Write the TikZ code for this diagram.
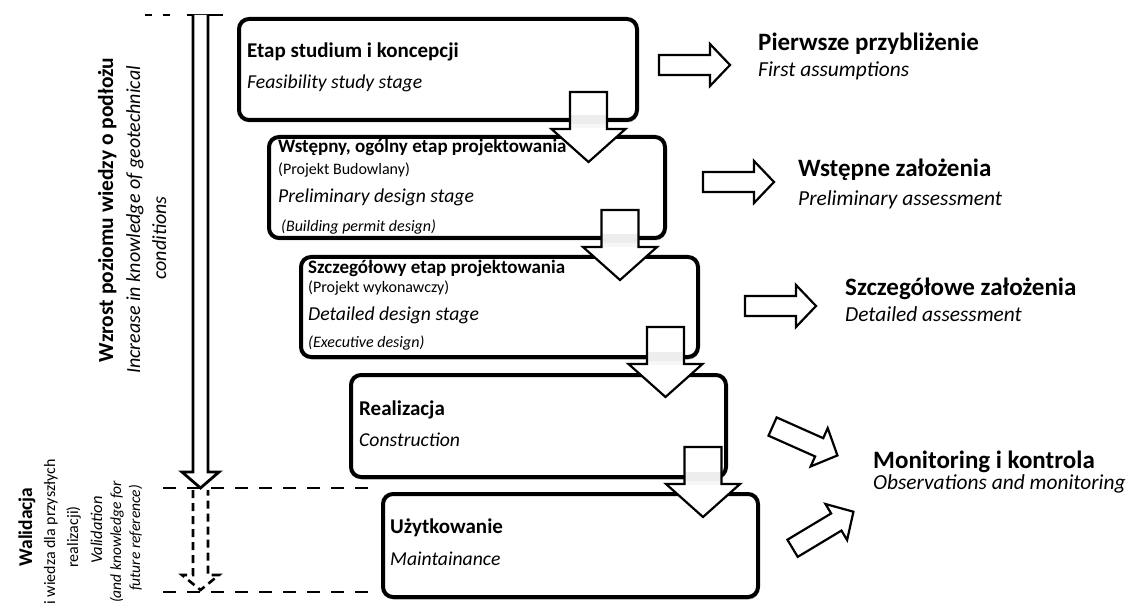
\documentclass[tikz,border=0pt]{standalone}
\usepackage{fontspec}
\setmainfont{Carlito}
\usetikzlibrary{shadows}
\newcommand\fsz[1]{\fontsize{#1}{#1}\selectfont}
\tikzset{
  stage/.style={draw, line width=4pt, rounded corners=10pt, fill=white, inner sep=0pt, anchor=north west,
    drop shadow={shadow xshift=1pt, shadow yshift=-2.5pt, opacity=0.25, fill=black}},
  blk/.style={draw, line width=2.2pt, fill=white, line join=miter},
  dsh/.style={line width=2.8pt, dash pattern=on 13pt off 11pt},
  txt/.style={anchor=base west, inner sep=0pt},
  bh/.style={txt, font=\bfseries\fsz{21}},
  bhs/.style={txt, font=\bfseries\fsz{19}},
  bsub/.style={txt, font=\itshape\fsz{19.7}},
  bpar/.style={txt, font=\fsz{16}},
  bpari/.style={txt, font=\itshape\fsz{16}},
  rh/.style={txt, font=\bfseries\fsz{25}},
  rs/.style={txt, font=\itshape\fsz{21.4}},
  vt/.style={rotate=90, anchor=base, inner sep=0pt},
}
\newcommand\vblockarrow[3]{% center x, top y, y of the shaded band
  \path[fill=white] (#1-18.5,#2) -- (#1+18.5,#2) -- (#1+18.5,#2+37) -- (#1+37,#2+37)
    -- (#1,#2+70) -- (#1-37,#2+37) -- (#1-18.5,#2+37) -- cycle;
  \fill[black!7] (#1-18.5,#3-3) rectangle (#1+18.5,#3+6);
  \fill[black!3] (#1-18.5,#3+6) rectangle (#1+18.5,#3+10);
  \draw[blk, fill=none] (#1-18.5,#2) -- (#1+18.5,#2) -- (#1+18.5,#2+37) -- (#1+37,#2+37)
    -- (#1,#2+70) -- (#1-37,#2+37) -- (#1-18.5,#2+37) -- cycle;}
\newcommand\hblockarrow{% local, centred at origin, pointing +x
  \draw[blk] (-35.5,-10) -- (15.5,-10) -- (15.5,-21) -- (35.5,0) -- (15.5,21)
    -- (15.5,10) -- (-35.5,10) -- cycle;}
\begin{document}
\begin{tikzpicture}[x=1pt,y=-1pt]
\useasboundingbox (0,0) rectangle (1131,609);

% stage boxes
\node[stage, minimum width=398pt, minimum height=101pt] (b1) at (237,17) {};
\node[stage, minimum width=396pt, minimum height=101pt] (b2) at (267,135) {};
\node[stage, minimum width=397pt, minimum height=100pt] (b3) at (299,255) {};
\node[stage, minimum width=375pt, minimum height=102pt] (b4) at (349,373) {};
\node[stage, minimum width=375pt, minimum height=103pt] (b5) at (381,492) {};

% box texts
\node[bh]   (t1a) at (247,58)  {Etap studium i koncepcji};
\node[bsub] (t1b) at (247,89)  {Feasibility study stage};
\node[bhs]  (t2a) at (278,153) {Wstępny, ogólny etap projektowania};
\node[bpar] (t2b) at (278,175) {(Projekt Budowlany)};
\node[bsub] (t2c) at (278,203) {Preliminary design stage};
\node[bpari](t2d) at (281,232) {(Building permit design)};
\node[bhs]  (t3a) at (308,273) {Szczegółowy etap projektowania};
\node[bpar] (t3b) at (308,293) {(Projekt wykonawczy)};
\node[bsub] (t3c) at (308,320) {Detailed design stage};
\node[bpari](t3d) at (308,347) {(Executive design)};
\node[bh]   (t4a) at (359,415) {Realizacja};
\node[bsub] (t4b) at (359,446) {Construction};
\node[bh]   (t5a) at (390,533) {Użytkowanie};
\node[bsub] (t5b) at (390,565) {Maintainance};

% down block arrows between stages
\vblockarrow{588.5}{92}{118}
\vblockarrow{620}{210}{237}
\vblockarrow{665.5}{327}{355}
\vblockarrow{703}{447}{475}

% right block arrows
\begin{scope}[shift={(694.5,65)}]\hblockarrow\end{scope}
\begin{scope}[shift={(738.5,182)}]\hblockarrow\end{scope}
\begin{scope}[shift={(780.5,306)}]\hblockarrow\end{scope}
\begin{scope}[shift={(805,441)}, rotate=-24]\hblockarrow\end{scope}
\begin{scope}[shift={(823,530)}, rotate=31]\hblockarrow\end{scope}

% right texts
\node[rh] (r1a) at (758,51)  {Pierwsze przybliżenie};
\node[rs] (r1b) at (758,77)  {First assumptions};
\node[rh] (r2a) at (798,177) {Wstępne założenia};
\node[rs] (r2b) at (798,206) {Preliminary assessment};
\node[rh] (r3a) at (845,295) {Szczegółowe założenia};
\node[rs] (r3b) at (845,321) {Detailed assessment};
\node[rh] (r4a) at (873,468) {Monitoring i kontrola};
\node[rs] (r4b) at (873,489) {Observations and monitoring};

% dashed level lines
\draw[line width=2.8pt, dash pattern=on 7pt off 11pt] (145,15) -- (181,15);
\draw[line width=2.8pt] (187,15) -- (223,15);
\draw[dsh] (163,488) -- (372,488);
\draw[dsh] (163,592) -- (372,592);

% knowledge increase arrow (hollow)
\draw[line width=2.8pt, line join=miter, fill=white]
  (193,15) -- (193,472) -- (182,472) -- (200.5,488) -- (219,472) -- (208,472) -- (208,15);
% validation arrow (dashed hollow)
\draw[line width=2.6pt, dash pattern=on 8pt off 5pt]
  (193,490) -- (193,575) -- (182,575) -- (200.5,590) -- (219,575) -- (208,575) -- (208,490);

% left vertical texts
\node[vt, font=\bfseries\fsz{21.5}] (l1) at (113,210) {Wzrost poziomu wiedzy o podłożu};
\node[vt, font=\itshape\fsz{20}]    (l2) at (140,220) {Increase in knowledge of geotechnical};
\node[vt, font=\itshape\fsz{20}]    (l3) at (166,238) {conditions};

\node[vt, font=\bfseries\fsz{19.5}] (v1) at (32,527) {Walidacja};
\node[vt, font=\fsz{16}]            (v2) at (55,532) {i wiedza dla przyszłych};
\node[vt, font=\fsz{16}]            (v3) at (78,537) {realizacji)};
\node[vt, font=\itshape\fsz{16.5}]  (v4) at (102,530) {Validation};
\node[vt, font=\itshape\fsz{15.5}]  (v5) at (121,542) {(and knowledge for};
\node[vt, font=\itshape\fsz{15.5}]  (v6) at (140,538) {future reference)};
\end{tikzpicture}
\end{document}
